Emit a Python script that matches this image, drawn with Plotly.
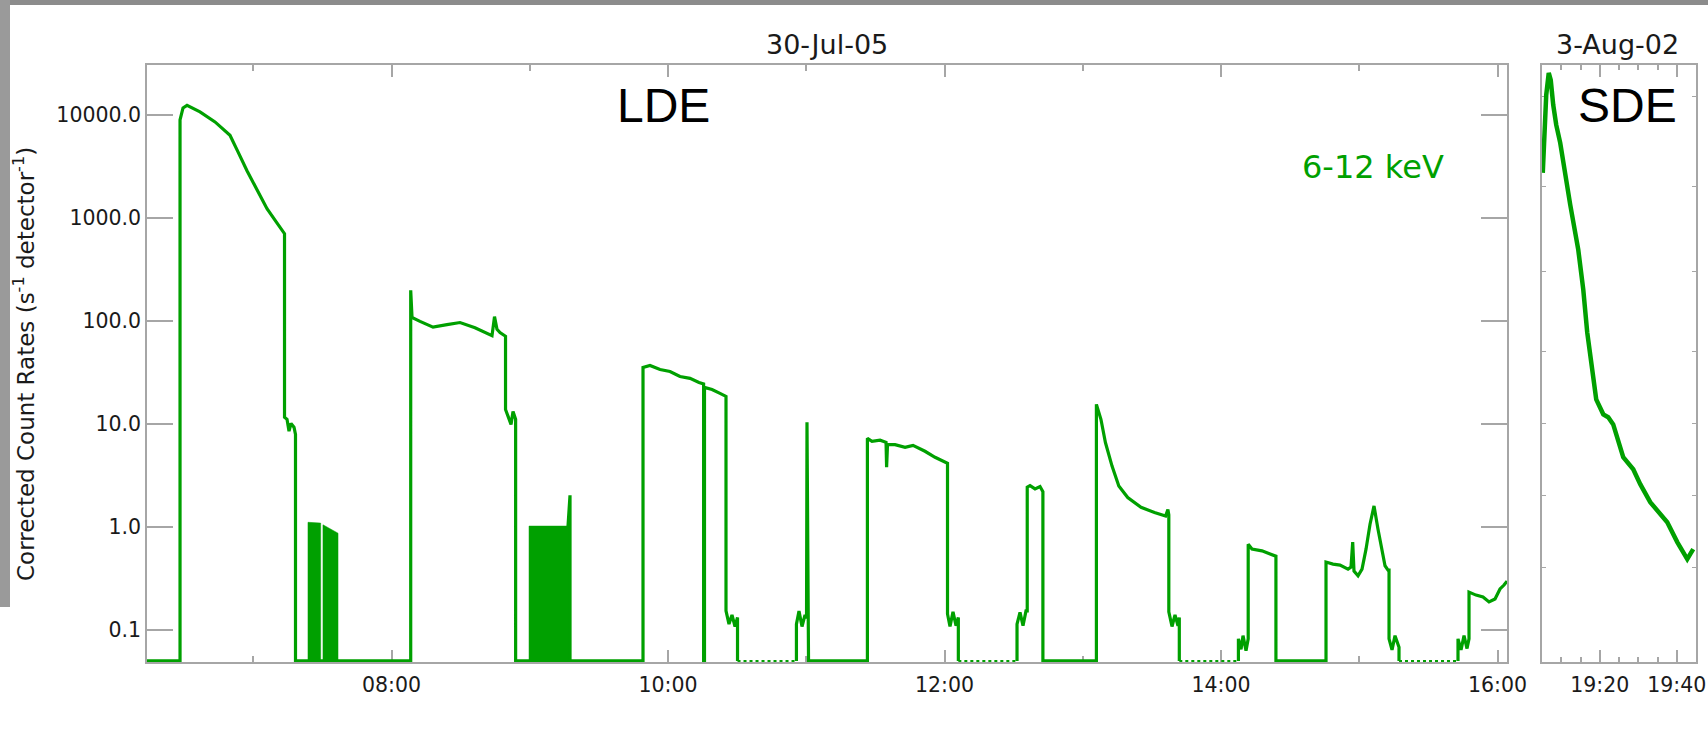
import plotly.graph_objects as go

W, H = 1708, 745
GREEN = "rgb(0,160,0)"
GREY = "#a6a6a6"

DAY1 = "2005-07-30 "
DAY2 = "2002-08-03 "

# ---------------- LDE (30-Jul-05), 6-12 keV corrected count rate ----------------
lde_time = [
    "06:13:00", "06:28:13", "06:28:13", "06:29:31", "06:31:15", "06:36:53", "06:43:24",
    "06:49:54", "06:53:23", "06:57:17", "07:01:38", "07:05:58", "07:09:53", "07:12:55",
    "07:13:34", "07:13:34", "07:14:39", "07:15:31", "07:16:23", "07:17:41", "07:18:20",
    "07:18:20",
    "08:08:20", "08:08:20", "08:08:54", "08:12:22", "08:18:01", "08:24:05", "08:29:44",
    "08:36:14", "08:41:53", "08:43:37", "08:44:42", "08:45:47", "08:47:05", "08:49:29",
    "08:49:29", "08:50:34", "08:51:52", "08:52:44", "08:53:52", "08:53:52",
    "09:16:36", "09:16:36", "09:17:28", "09:17:28",
    "09:49:09", "09:49:09", "09:52:11", "09:56:32", "10:00:52", "10:05:12", "10:09:33",
    "10:13:27", "10:15:27", "10:15:27", "10:15:50", "10:15:50", "10:19:06", "10:22:34",
    "10:25:10", "10:25:10", "10:26:28", "10:27:46", "10:29:05", "10:30:10", "10:30:10",
    None,
    "10:55:44", "10:55:44", "10:56:51", "10:58:09", "10:59:28", "11:00:07", "11:00:19",
    "11:00:59",
    "11:26:32", "11:26:32", "11:28:32", "11:32:01", "11:34:37", "11:34:52", "11:35:16",
    "11:38:31", "11:42:52", "11:46:20", "11:51:32", "11:55:53", "12:01:18", "12:01:18",
    "12:02:23", "12:03:41", "12:05:00", "12:06:00", "12:06:00",
    None,
    "12:31:28", "12:31:28", "12:32:46", "12:34:04", "12:35:22", "12:35:54", "12:35:54",
    "12:37:07", "12:39:17", "12:41:27", "12:42:42", "12:42:42",
    "13:05:55", "13:05:55", "13:07:53", "13:09:50", "13:12:42", "13:15:39", "13:19:31",
    "13:25:17", "13:31:08", "13:35:57", "13:36:57", "13:37:21", "13:37:21", "13:38:44",
    "13:40:02", "13:41:20", "13:41:54", "13:41:54",
    None,
    "14:07:33", "14:07:33", "14:08:41", "14:09:33", "14:10:51", "14:11:48", "14:11:48",
    "14:13:26", "14:17:46", "14:21:14", "14:23:50", "14:23:50",
    "14:45:34", "14:45:34", "14:48:36", "14:51:39", "14:55:07", "14:56:25", "14:57:09",
    "14:57:43", "14:59:28", "15:01:12", "15:02:56", "15:04:40", "15:06:24", "15:08:08",
    "15:09:52", "15:11:11", "15:12:29", "15:12:55", "15:12:55", "15:14:13", "15:15:31",
    "15:17:15", "15:17:15",
    None,
    "15:42:51", "15:42:51", "15:44:10", "15:45:28", "15:46:46", "15:47:38", "15:47:38",
    "15:50:40", "15:53:42", "15:56:19", "15:58:55", "16:01:05", "16:02:49", "16:04:07",
]
lde_rate = [
    0.05, 0.05, 8945, 11690, 12360, 10690, 8550,
    6343, 4380, 2868, 1877, 1228, 919, 735,
    703, 11.6, 11.1, 8.5, 10.1, 9.3, 7.9,
    0.05,
    0.05, 198, 108, 99, 87, 92, 96.5,
    86, 74, 72, 110, 83, 77, 71,
    13.8, 11.8, 9.9, 13.2, 11.1, 0.05,
    0.05, 1.02, 2.03, 0.05,
    0.05, 35.3, 37, 33.8, 32.3, 28.9, 27.7,
    25.3, 24.5, 0.05, 0.05, 22.6, 21.6, 19.8,
    18.5, 0.153, 0.114, 0.14, 0.108, 0.132, 0.05,
    None,
    0.05, 0.114, 0.153, 0.108, 0.14, 0.13, 10.4,
    0.05,
    0.05, 7.25, 6.78, 6.95, 6.63, 3.8, 6.3,
    6.3, 5.93, 6.2, 5.43, 4.75, 4.15, 0.143,
    0.108, 0.15, 0.11, 0.132, 0.05,
    None,
    0.05, 0.114, 0.148, 0.11, 0.153, 0.153, 2.43,
    2.52, 2.34, 2.47, 2.2, 0.05,
    0.05, 15.5, 11.1, 6.6, 3.9, 2.5, 1.93,
    1.55, 1.38, 1.28, 1.48, 1.31, 0.15, 0.108,
    0.14, 0.11, 0.132, 0.05,
    None,
    0.05, 0.082, 0.065, 0.088, 0.063, 0.082, 0.68,
    0.61, 0.586, 0.545, 0.52, 0.05,
    0.05, 0.456, 0.436, 0.426, 0.39, 0.408, 0.712,
    0.373, 0.336, 0.39, 0.609, 1.064, 1.601, 0.952,
    0.609, 0.42, 0.381, 0.381, 0.082, 0.064, 0.088,
    0.068, 0.05,
    None,
    0.05, 0.082, 0.064, 0.088, 0.066, 0.082, 0.233,
    0.218, 0.209, 0.187, 0.2, 0.25, 0.273, 0.298,
]

# densely sampled (solid-looking) intervals near 1 count/s
block_start = ["07:23:45", "07:30:15", "08:59:41"]
block_end = ["07:29:15", "07:36:47", "09:16:36"]
block_top_start = [1.11, 1.05, 1.02]
block_top_end = [1.09, 0.87, 1.02]

# sparse data gaps at background level
gap_start = ["10:30:10", "12:06:00", "13:41:54", "15:17:15"]
gap_end = ["10:55:44", "12:31:28", "14:07:33", "15:42:51"]
BASE = 0.05

# ---------------- SDE (3-Aug-02) ----------------
sde_time = [
    "19:05:12", "19:05:35", "19:06:06", "19:06:45", "19:07:16", "19:07:55", "19:08:42",
    "19:09:44", "19:11:02", "19:12:20", "19:14:25", "19:15:43", "19:16:45", "19:18:03",
    "19:19:05", "19:20:55", "19:22:12", "19:23:30", "19:24:48", "19:26:06", "19:28:42",
    "19:30:31", "19:33:07", "19:35:43", "19:37:32", "19:40:08", "19:42:44", "19:43:30",
    "19:44:17",
]
sde_rate = [
    2741, 7157, 15620, 25530, 21830, 12500, 8000,
    5355, 2622, 1342, 492, 201.6, 77.2, 33.8,
    17.3, 12.4, 11.6, 9.9, 6.78, 4.75, 3.63,
    2.6, 1.74, 1.33, 1.11, 0.713, 0.488, 0.545,
    0.61,
]

y_tickvals = [0.1, 1, 10, 100, 1000, 10000]
y_ticktext = ["0.1", "1.0", "10.0", "100.0", "1000.0", "10000.0"]
sde_yticks = [0.4, 2, 10, 50, 300, 2000, 15000]

fig = go.Figure()

fig.add_trace(go.Scatter(
    x=[DAY1 + t if t else None for t in lde_time], y=lde_rate,
    mode="lines", line=dict(color=GREEN, width=3.2), connectgaps=False,
    xaxis="x", yaxis="y", showlegend=False, hoverinfo="skip"))

for s, e, a, b in zip(block_start, block_end, block_top_start, block_top_end):
    fig.add_trace(go.Scatter(
        x=[DAY1 + s, DAY1 + s, DAY1 + e, DAY1 + e, DAY1 + s],
        y=[BASE, a, b, BASE, BASE],
        mode="lines", fill="toself", fillcolor=GREEN,
        line=dict(color=GREEN, width=0.5),
        xaxis="x", yaxis="y", showlegend=False, hoverinfo="skip"))

for s, e in zip(gap_start, gap_end):
    fig.add_trace(go.Scatter(
        x=[DAY1 + s, DAY1 + e], y=[BASE, BASE], mode="lines",
        line=dict(color=GREEN, width=2, dash="dot"),
        xaxis="x", yaxis="y", showlegend=False, hoverinfo="skip"))

fig.add_trace(go.Scatter(
    x=[DAY2 + t for t in sde_time], y=sde_rate,
    mode="lines", line=dict(color=GREEN, width=4.5),
    xaxis="x2", yaxis="y2", showlegend=False, hoverinfo="skip"))

def px_x(p):
    return p / W

def px_y(p):
    return 1 - p / H

YRANGE = [-1.311, 4.4845]
ydom = [px_y(662), px_y(65)]
tickfont = dict(family="DejaVu Sans", size=20.5, color="#1a1a1a")

common_x = dict(type="date", showline=True, linecolor=GREY, linewidth=1.5,
                mirror="allticks", ticks="inside", tickcolor=GREY, tickwidth=1.5,
                ticklen=12, showgrid=False, zeroline=False, tickfont=tickfont,
                tickformat="%H:%M", layer="below traces", automargin=False,
                ticklabelstandoff=4)

fig.update_layout(
    width=W, height=H, autosize=False,
    margin=dict(l=0, r=0, t=0, b=0, pad=0),
    paper_bgcolor="white", plot_bgcolor="white",
    xaxis=dict(common_x, domain=[px_x(147), px_x(1507)],
               range=[DAY1 + "06:13:53", DAY1 + "16:04:07"],
               tick0=DAY1 + "00:00", dtick=7200000,
               minor=dict(dtick=3600000, ticklen=6, ticks="inside",
                          tickcolor=GREY, tickwidth=1.5),
               anchor="y"),
    yaxis=dict(type="log", range=YRANGE, domain=ydom, showline=True,
               linecolor=GREY, linewidth=1.5, mirror="allticks", ticks="inside",
               tickcolor=GREY, tickwidth=1.5, ticklen=26, tickvals=y_tickvals,
               ticktext=y_ticktext, showgrid=False, zeroline=False,
               tickfont=tickfont, anchor="x", layer="below traces", automargin=False),
    xaxis2=dict(common_x, domain=[px_x(1542), px_x(1696)],
                range=[DAY2 + "19:05:00", DAY2 + "19:45:00"],
                tick0=DAY2 + "19:00", dtick=1200000,
                minor=dict(dtick=300000, ticklen=5, ticks="inside",
                           tickcolor=GREY, tickwidth=1.5),
                anchor="y2"),
    yaxis2=dict(type="log", range=YRANGE, domain=ydom, showline=True,
                linecolor=GREY, linewidth=1.5, mirror="allticks", ticks="inside",
                tickcolor=GREY, tickwidth=1, ticklen=4, tickvals=sde_yticks,
                showticklabels=False, showgrid=False, zeroline=False,
                anchor="x2", layer="below traces", automargin=False),
)

ann = [
    dict(text="30-Jul-05", x=px_x(827), y=px_y(44), size=27, color="#1a1a1a",
         family="DejaVu Sans"),
    dict(text="3-Aug-02", x=px_x(1617), y=px_y(44), size=27, color="#1a1a1a",
         family="DejaVu Sans"),
    dict(text="LDE", x=px_x(663), y=px_y(105), size=48, color="black",
         family="Liberation Sans"),
    dict(text="SDE", x=px_x(1627), y=px_y(105), size=48, color="black",
         family="Liberation Sans"),
    dict(text="6-12 keV", x=px_x(1373), y=px_y(167), size=32, color=GREEN,
         family="DejaVu Sans"),
]
for a in ann:
    fig.add_annotation(text=a["text"], x=a["x"], y=a["y"], xref="paper", yref="paper",
                       xanchor="center", yanchor="middle", showarrow=False,
                       font=dict(family=a["family"], size=a["size"], color=a["color"]))

fig.add_annotation(text="Corrected Count Rates (s<sup>-1</sup> detector<sup>-1</sup>)",
                   x=px_x(24), y=px_y(364), xref="paper", yref="paper",
                   xanchor="center", yanchor="middle", textangle=-90, showarrow=False,
                   font=dict(family="DejaVu Sans", size=23, color="#1a1a1a"))

# slide frame decoration (grey border of the screenshot)
fig.add_shape(type="rect", xref="paper", yref="paper", x0=0, x1=1, y0=px_y(5), y1=1,
              fillcolor="#8c8c8c", line=dict(width=0), layer="above")
fig.add_shape(type="rect", xref="paper", yref="paper", x0=0, x1=px_x(10),
              y0=px_y(607), y1=1, fillcolor="#9a9a9a", line=dict(width=0), layer="above")

fig.write_html("out.html", config={"responsive": False, "displayModeBar": False})
